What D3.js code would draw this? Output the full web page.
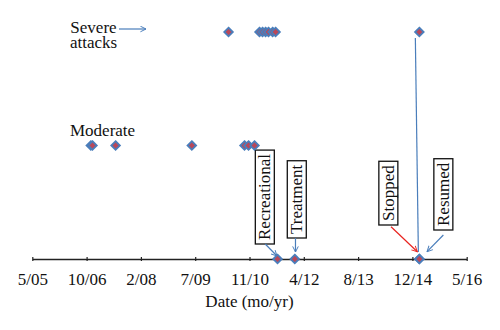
<!DOCTYPE html>
<html>
<head>
<meta charset="utf-8">
<script src="https://cdn.jsdelivr.net/npm/d3@7"></script>
<style>
  html, body { margin: 0; padding: 0; background: #ffffff; }
  svg { display: block; }
  svg text { font-family: "Liberation Serif", "Times New Roman", serif; }
</style>
</head>
<body>
<svg id="chart" width="500" height="330"></svg>
<script>
// ---- data ----
const tickDates = ["2005-05-28","2006-10-10","2008-02-22","2009-07-06","2010-11-18","2012-04-01","2013-08-14","2014-12-27","2016-05-10"];
const tickLabels = ["5/05","10/06","2/08","7/09","11/10","4/12","8/13","12/14","5/16"];

const levelNames = ["", "Moderate", "Severe attacks"];
const moderateDates = ["2006-11-18","2006-12-03","2007-07-04","2009-06-05","2010-10-03","2010-11-09","2011-01-03"];
const severeDates = ["2010-05-09","2011-02-18","2011-03-18","2011-04-15","2011-05-12","2011-06-19","2011-07-16","2015-03-01"];
const eventDates = ["2011-08-03","2012-01-09","2015-03-01","2015-03-01"];
const eventLabels = ["Recreational","Treatment","Stopped","Resumed"];
const xTitle = "Date (mo/yr)";

// ---- setup ----
const FONT = "Liberation Serif";
const parse = d3.utcParse("%Y-%m-%d");
const svg = d3.select("#chart");
const x = d3.scaleUtc()
  .domain([parse(tickDates[0]), parse(tickDates[tickDates.length - 1])])
  .range([32.3, 466.7]);
const y = d3.scaleLinear().domain([0, 2]).range([259, 32]);

const blue = "#4A7EBB";
const markerFill = "#B9485A";
const fontSize = "17px";

// arrowheads
const defs = svg.append("defs");
[["arrBlue", blue], ["arrRed", "#E8231F"]].forEach(([id, c]) => {
  defs.append("marker").attr("id", id)
    .attr("viewBox", "0 0 10 10").attr("refX", 9).attr("refY", 5)
    .attr("markerWidth", 7).attr("markerHeight", 7).attr("markerUnits", "userSpaceOnUse")
    .attr("orient", "auto")
    .append("path").attr("d", "M1,1 L9,5 L1,9")
    .attr("fill", "none").attr("stroke", c).attr("stroke-width", 1.4);
});

// ---- axis ----
const xAxis = d3.axisBottom(x)
  .tickValues(tickDates.map(parse))
  .tickFormat((d, i) => tickLabels[i])
  .tickSizeInner(3).tickSizeOuter(0).tickPadding(7);
const gx = svg.append("g").attr("transform", `translate(0,${y(0)})`).call(xAxis)
  .attr("font-family", FONT);
gx.select(".domain").attr("stroke", "#222").attr("stroke-width", 1.3);
gx.selectAll(".tick line").attr("stroke", "#222").attr("stroke-width", 1.2).attr("y1", -2).attr("y2", 2);
gx.selectAll(".tick text").attr("font-size", fontSize).attr("fill", "#111")
  .attr("font-family", FONT).attr("dy", "0.92em");

svg.append("text").attr("x", x(parse(tickDates[4]))).attr("y", 307)
  .attr("text-anchor", "middle").attr("font-size", fontSize).attr("fill", "#111")
  .attr("font-family", FONT).text(xTitle);

// ---- level labels ----
const sevWords = levelNames[2].split(" ");
sevWords.forEach((w, i) => {
  svg.append("text").attr("x", 93.5).attr("y", y(2) + 0.5 + i * 15)
    .attr("text-anchor", "middle").attr("font-size", fontSize).attr("fill", "#111")
    .attr("font-family", FONT).text(w);
});
svg.append("text").attr("x", 70).attr("y", y(1) - 10)
  .attr("font-size", fontSize).attr("fill", "#111").attr("font-family", FONT).text(levelNames[1]);

// severe arrow
svg.append("line").attr("x1", 119).attr("y1", y(2) - 3).attr("x2", 146).attr("y2", y(2) - 3)
  .attr("stroke", blue).attr("stroke-width", 1.2).attr("marker-end", "url(#arrBlue)");

// long vertical annotation line from last severe point down to axis
const lastSevere = x(parse(severeDates[severeDates.length - 1]));
svg.append("line").attr("x1", lastSevere - 4).attr("y1", y(2) + 6)
  .attr("x2", lastSevere - 1).attr("y2", y(0) - 7)
  .attr("stroke", blue).attr("stroke-width", 1.2);

// ---- event labels & arrows ----
const evCfg = [
  {dx: -12.7, bottom: 244, ax1: -12.3, ay1: 244, ax2: -0.5, ay2: 256, col: "arrBlue", stroke: blue},
  {dx: 2.0,  bottom: 238, ax1: 0.7, ay1: 238, ax2: 0.7, ay2: 252, col: "arrBlue", stroke: blue},
  {dx: -31,  bottom: 225, ax1: -28.3, ay1: 226.7, ax2: -2, ay2: 251.7, col: "arrRed", stroke: "#E8231F"},
  {dx: 24,   bottom: 230, ax1: 24, ay1: 235, ax2: 7.7, ay2: 251.7, col: "arrBlue", stroke: blue}
];
eventLabels.forEach((lab, i) => {
  const ex = x(parse(eventDates[i]));
  const c = evCfg[i];
  const cx = ex + c.dx;
  const g = svg.append("g");
  const t = g.append("text")
    .attr("transform", `translate(${cx + 5.5},${c.bottom - 4}) rotate(-90)`)
    .attr("font-size", fontSize).attr("fill", "#111").attr("font-family", FONT).text(lab);
  const len = t.node().getComputedTextLength();
  g.insert("rect", "text")
    .attr("x", cx - 9.5).attr("y", c.bottom - len - 8)
    .attr("width", 19).attr("height", len + 8)
    .attr("fill", "#fff").attr("stroke", "#111").attr("stroke-width", 1.3);
  svg.append("line")
    .attr("x1", ex + c.ax1).attr("y1", c.ay1).attr("x2", ex + c.ax2).attr("y2", c.ay2)
    .attr("stroke", c.stroke).attr("stroke-width", 1.2).attr("marker-end", `url(#${c.col})`);
});

// ---- markers ----
const diamond = "M0,-4.3 L4.3,0 L0,4.3 L-4.3,0 Z";
const pts = [
  ...moderateDates.map(d => ({d, v: 1})),
  ...severeDates.map(d => ({d, v: 2})),
  ...eventDates.map(d => ({d, v: 0}))
];
svg.append("g").selectAll("path").data(pts).join("path")
  .attr("d", diamond)
  .attr("transform", p => `translate(${x(parse(p.d))},${y(p.v)})`)
  .attr("fill", markerFill).attr("stroke", blue).attr("stroke-width", 1.8);
</script>
</body>
</html>
